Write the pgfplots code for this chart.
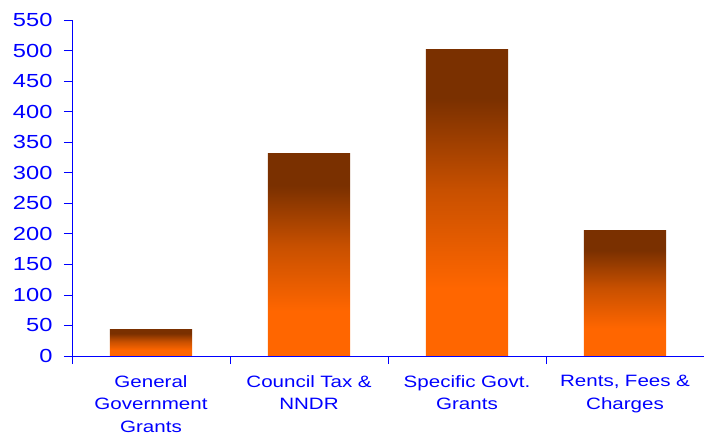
\documentclass[border=0pt]{standalone}
\usepackage{pgfplots}
\pgfplotsset{compat=1.18}
\usepackage{fontspec}
\setmainfont{Liberation Sans}[FakeStretch=1.25]
\definecolor{txtblue}{RGB}{0,0,255}
\definecolor{bartop}{RGB}{122,48,0}
\definecolor{barmid}{RGB}{200,80,0}
\definecolor{barbot}{RGB}{255,102,0}
\pgfdeclareverticalshading{barshade}{100bp}{color(0bp)=(barbot); color(25bp)=(barbot); color(36bp)=(barbot); color(52bp)=(barmid); color(67bp)=(bartop); color(75bp)=(bartop); color(100bp)=(bartop)}
\begin{document}
\begin{tikzpicture}
\begin{axis}[
  at={(0,0)}, anchor=south west, scale only axis,
  width=632bp, height=336bp,
  xmin=-0.5, xmax=3.5, ymin=0, ymax=550,
  axis lines=left,
  axis line style={-, draw=txtblue, line width=0.8pt},
  axis on top,
  ytick={0,50,...,550},
  xtick={-0.5,0.5,1.5,2.5,3.5},
  x tick label as interval,
  xticklabels={General\\Government\\Grants, Council Tax \&\\NNDR, Specific Govt.\\Grants, {Rents, Fees \&\\Charges}},
  tick align=outside,
  major tick length=8bp,
  tick style={draw=txtblue, line width=0.8pt},
  ticklabel style={text=txtblue},
  /pgf/number format/assume math mode=true,
  y tick label style={font=\fontsize{19}{22}\selectfont, xshift=-8bp},
  x tick label style={font=\fontsize{16.5}{22.5}\selectfont, align=center, text width=160bp, yshift=-8bp},
  no markers,
  every axis plot/.append style={ybar, bar width=0.52, bar shift=0pt, draw=none, shade, shading=barshade},
]
\addplot coordinates {(0,44)};
\addplot coordinates {(1,332)};
\addplot coordinates {(2,502)};
\addplot coordinates {(3,206)};
\end{axis}
\pgfresetboundingbox
\path (-72bp,-80bp) rectangle (632bp,356bp);
\end{tikzpicture}
\end{document}
